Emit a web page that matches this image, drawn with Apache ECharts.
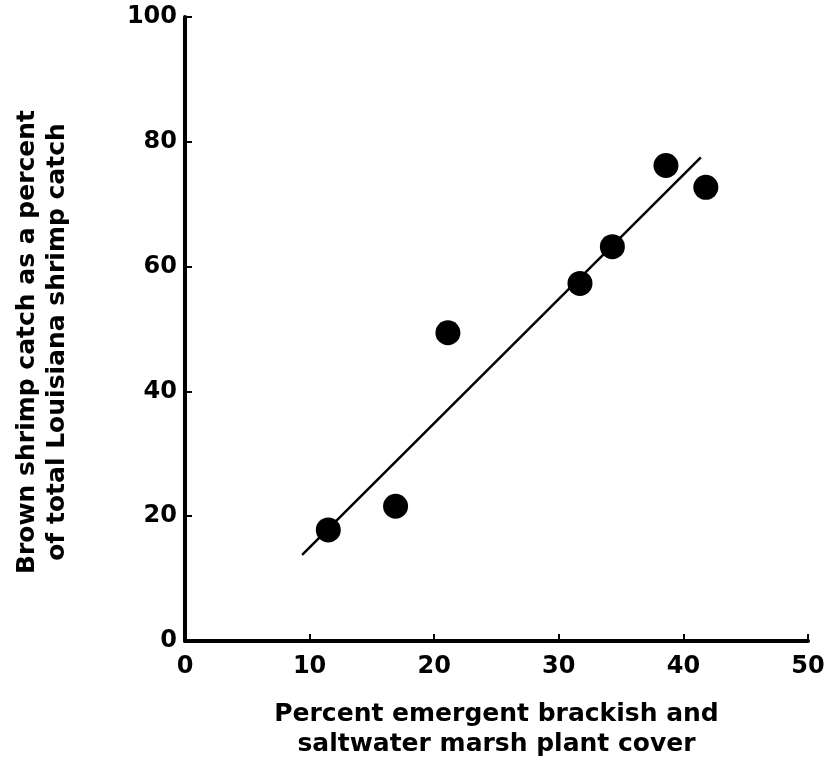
<!DOCTYPE html>
<html lang="en">
<head>
    <meta charset="UTF-8">
    <title>Brown shrimp catch vs marsh plant cover</title>
    <script src="https://cdn.jsdelivr.net/npm/echarts@6/dist/echarts.min.js"></script>
</head>
<body style="margin:0;background:#fff;">
<div class="container" style="width:830px;height:758px;"></div>
<script>
    // points
    let cover = [11.5, 16.9, 21.1, 31.7, 34.3, 38.6, 41.8];
    let brownPct = [17.8, 21.6, 49.4, 57.3, 63.2, 76.2, 72.7];

    // fitted line end points
    let fitX = [9.4, 41.4];
    let fitY = [13.8, 77.5];

    let xTicks = [0, 10, 20, 30, 40, 50];
    let yTicks = [0, 20, 40, 60, 80, 100];

    let font = '"DejaVu Sans", Arial, sans-serif';
    let mycharts = echarts.init(document.querySelector('.container'));

    let points = cover.map((x, i) => [x, brownPct[i]]);
    let fit = fitX.map((x, i) => [x, fitY[i]]);

    let axisCommon = {
        type: 'value',
        splitLine: {show: false},
        axisLine: {show: true, lineStyle: {color: '#000', width: 4}},
        axisTick: {show: true, inside: true, length: 7, lineStyle: {color: '#000', width: 2}},
        axisLabel: {color: '#000', fontFamily: font, fontWeight: 'bold', fontSize: 24},
        nameTextStyle: {color: '#000', fontFamily: font, fontWeight: 'bold', fontSize: 25, lineHeight: 30}
    };

    let option = {
        backgroundColor: '#fff',
        animation: false,
        grid: {left: 185, right: 22, top: 17, bottom: 117, outerBoundsMode: 'none', containLabel: false},
        xAxis: Object.assign({}, axisCommon, {
            min: xTicks[0],
            max: xTicks[xTicks.length - 1],
            interval: 10,
            name: 'Percent emergent brackish and\nsaltwater marsh plant cover',
            nameLocation: 'middle',
            nameGap: 58,
            axisLabel: Object.assign({}, axisCommon.axisLabel, {margin: 14})
        }),
        yAxis: Object.assign({}, axisCommon, {
            min: yTicks[0],
            max: yTicks[yTicks.length - 1],
            interval: 20,
            name: 'Brown shrimp catch as a percent\nof total Louisiana shrimp catch',
            nameLocation: 'middle',
            nameRotate: 90,
            nameGap: 113,
            nameTextStyle: Object.assign({}, axisCommon.nameTextStyle, {padding: [0, 26, 0, 0]}),
            axisLabel: Object.assign({}, axisCommon.axisLabel, {margin: 8})
        }),
        series: [
            {
                type: 'line',
                data: fit,
                symbol: 'none',
                lineStyle: {color: '#000', width: 2.5}
            },
            {
                type: 'scatter',
                data: points,
                symbolSize: 25,
                itemStyle: {color: '#000', opacity: 1}
            }
        ]
    };

    mycharts.setOption(option);
</script>
</body>
</html>
